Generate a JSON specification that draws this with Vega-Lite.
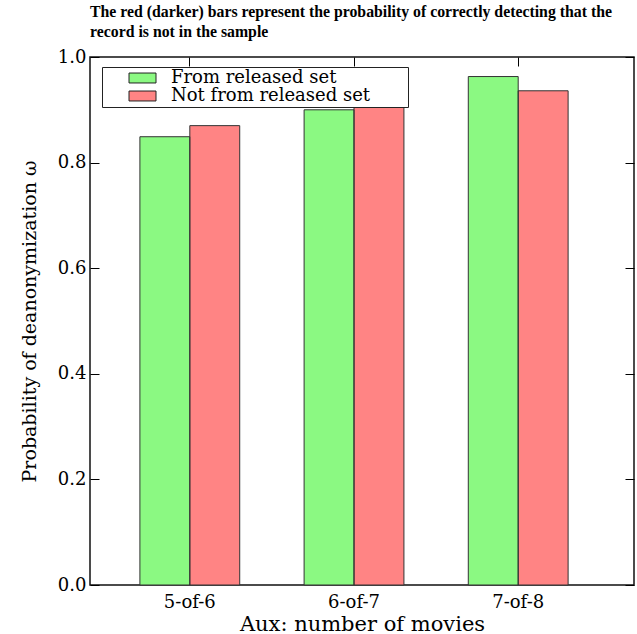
{
  "$schema": "https://vega.github.io/schema/vega-lite/v6.json",
  "autosize": {"type": "none"},
  "padding": {"left": 90, "top": 57, "right": 3, "bottom": 49},
  "width": 544,
  "height": 528,
  "title": {
    "text": ["The red (darker) bars represent the probability of correctly detecting that the", "record is not in the sample"],
    "anchor": "start",
    "frame": "group",
    "font": "Liberation Serif",
    "fontSize": 15.8,
    "fontWeight": "bold",
    "color": "black",
    "lineHeight": 20,
    "offset": 7
  },
  "data": {
    "values": [
      {"aux": "5-of-6", "set": "From released set", "p": 0.849},
      {"aux": "5-of-6", "set": "Not from released set", "p": 0.870},
      {"aux": "6-of-7", "set": "From released set", "p": 0.900},
      {"aux": "6-of-7", "set": "Not from released set", "p": 0.910},
      {"aux": "7-of-8", "set": "From released set", "p": 0.963},
      {"aux": "7-of-8", "set": "Not from released set", "p": 0.936}
    ]
  },
  "encoding": {
    "x": {
      "field": "aux", "type": "nominal",
      "scale": {"domain": ["5-of-6", "6-of-7", "7-of-8"], "paddingInner": 0.392, "paddingOuter": 0.3526, "align": 0.431}
    },
    "xOffset": {
      "field": "set", "type": "nominal",
      "scale": {"domain": ["From released set", "Not from released set"], "paddingInner": 0, "paddingOuter": 0}
    },
    "y": {
      "field": "p", "type": "quantitative",
      "scale": {"domain": [0, 1], "nice": false, "zero": true}
    }
  },
  "layer": [
    {
      "mark": {"type": "bar", "stroke": null},
      "encoding": {
        "x": {
          "field": "aux", "type": "nominal",
          "axis": {
            "orient": "bottom", "title": "Aux: number of movies", "labelAngle": 0,
            "ticks": false, "domain": false, "labelPadding": 8,
            "labelFont": "DejaVu Serif", "labelFontSize": 18, "labelColor": "black",
            "titleFont": "DejaVu Serif", "titleFontSize": 21, "titleFontWeight": "normal", "titleColor": "black", "titlePadding": 2
          }
        },
        "y": {
          "field": "p", "type": "quantitative",
          "axis": {
            "orient": "left", "title": "Probability of deanonymization ω",
            "values": [0, 0.2, 0.4, 0.6, 0.8, 1.0], "format": ".1f",
            "grid": false, "domain": false, "tickSize": -9, "tickColor": "black", "tickWidth": 1,
            "labelPadding": 13, "labelFont": "DejaVu Serif", "labelFontSize": 18, "labelColor": "black",
            "titleFont": "DejaVu Serif", "titleFontSize": 19, "titleFontWeight": "normal", "titleColor": "black", "titlePadding": 18
          }
        },
        "color": {
          "field": "set", "type": "nominal",
          "scale": {"domain": ["From released set", "Not from released set"], "range": ["#8BF982", "#FF8484"]},
          "legend": {
            "orient": "none", "legendX": 12, "legendY": 10,
            "title": "\u00a0", "titleOrient": "right", "titlePadding": 36, "titleFontSize": 4,
            "fillColor": "white", "strokeColor": "#222", "padding": 2,
            "symbolType": "M-2.25,-0.83H2.25V0.83H-2.25Z", "symbolSize": 144,
            "symbolStrokeColor": "#222", "symbolStrokeWidth": 1, "symbolOpacity": 1,
            "symbolOffset": 29.5, "labelOffset": 19.5, "labelLimit": 400,
            "labelFont": "DejaVu Serif", "labelFontSize": 18, "labelColor": "black", "rowPadding": 0
          }
        }
      }
    },
    {
      "mark": {"type": "bar", "fillOpacity": 0, "stroke": "#333", "strokeWidth": 1},
      "encoding": {
        "x": {
          "field": "aux", "type": "nominal",
          "axis": {"orient": "top", "title": null, "labels": false, "domain": false, "tickSize": -9, "tickColor": "black", "tickWidth": 1}
        },
        "y": {
          "field": "p", "type": "quantitative",
          "axis": {"orient": "right", "title": null, "labels": false, "domain": false, "grid": false, "tickSize": -9, "tickColor": "black", "tickWidth": 1, "values": [0, 0.2, 0.4, 0.6, 0.8, 1.0]}
        }
      }
    }
  ],
  "resolve": {"axis": {"x": "independent", "y": "independent"}},
  "config": {
    "view": {"stroke": "#111", "strokeWidth": 1.5},
    "axis": {"grid": false}
  }
}
